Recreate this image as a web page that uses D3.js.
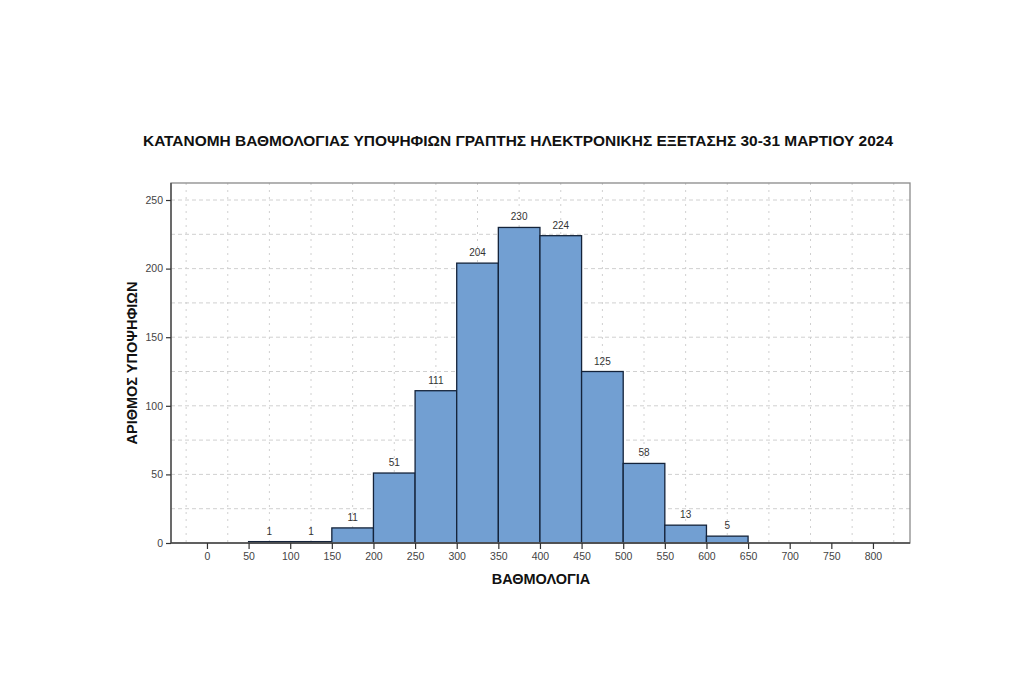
<!DOCTYPE html>
<html><head><meta charset="utf-8">
<script src="https://cdn.jsdelivr.net/npm/d3@7"></script>
<style>body{margin:0;background:#fff}svg{display:block}</style>
</head><body>
<script>
const binStarts = [50,100,150,200,250,300,350,400,450,500,550,600];
const binWidth = 50;
const counts = [1,1,11,51,111,204,230,224,125,58,13,5];
const xTicks = [0,50,100,150,200,250,300,350,400,450,500,550,600,650,700,750,800];
const yTicks = [0,50,100,150,200,250];
const xGrid = [-25,25,75,125,175,225,275,325,375,425,475,525,575,625,675,725,775,825];
const yGrid = [25,50,75,100,125,150,175,200,225,250];
const title = "ΚΑΤΑΝΟΜΗ ΒΑΘΜΟΛΟΓΙΑΣ ΥΠΟΨΗΦΙΩΝ ΓΡΑΠΤΗΣ ΗΛΕΚΤΡΟΝΙΚΗΣ ΕΞΕΤΑΣΗΣ 30-31 ΜΑΡΤΙΟΥ 2024";
const xLabel = "ΒΑΘΜΟΛΟΓΙΑ";
const yLabel = "ΑΡΙΘΜΟΣ ΥΠΟΨΗΦΙΩΝ";

const W=1024,H=683;
const L=171,R=910,T=183,B=543;
const svg=d3.select("body").append("svg").attr("width",W).attr("height",H);
const x=d3.scaleLinear().domain([-43.2,844.5]).range([L,R]);
const y=d3.scaleLinear().domain([0,262.4]).range([B,T]);
const font="'Liberation Sans', Arial, sans-serif";

// grid
svg.append("g").selectAll("line").data(yGrid).join("line")
  .attr("x1",L).attr("x2",R).attr("y1",d=>y(d)).attr("y2",d=>y(d))
  .attr("stroke","#d0d0d0").attr("stroke-width",1).attr("stroke-dasharray","4,3");
svg.append("g").selectAll("line").data(xGrid).join("line")
  .attr("y1",T).attr("y2",B).attr("x1",d=>x(d)).attr("x2",d=>x(d))
  .attr("stroke","#d0d0d0").attr("stroke-width",1).attr("stroke-dasharray","2,5");

// bars
const data=binStarts.map((s,i)=>({s,c:counts[i]}));
svg.append("g").selectAll("rect").data(data).join("rect")
  .attr("x",d=>x(d.s)).attr("width",d=>x(d.s+binWidth)-x(d.s))
  .attr("y",d=>y(d.c)).attr("height",d=>y(0)-y(d.c))
  .attr("fill","#729fd2").attr("stroke","#14233a").attr("stroke-width",1.3);

svg.append("g").selectAll("text").data(data).join("text")
  .attr("x",d=>x(d.s+binWidth/2)).attr("y",d=>y(d.c)-7)
  .attr("text-anchor","middle").attr("font-family",font).attr("font-size",10)
  .attr("fill","#333").text(d=>d.c);

// frame
svg.append("rect").attr("x",L).attr("y",T).attr("width",R-L).attr("height",B-T)
  .attr("fill","none").attr("stroke","#8a8a8a").attr("stroke-width",1.3);
svg.append("line").attr("x1",L).attr("x2",L).attr("y1",T).attr("y2",B).attr("stroke","#444").attr("stroke-width",1.3);
svg.append("line").attr("x1",L).attr("x2",R).attr("y1",B).attr("y2",B).attr("stroke","#444").attr("stroke-width",1.3);

// axes
const xa=svg.append("g").attr("transform",`translate(0,${B})`)
  .call(d3.axisBottom(x).tickValues(xTicks).tickSize(6).tickPadding(4).tickFormat(d3.format("d")));
xa.select(".domain").remove();
xa.selectAll("line").attr("stroke","#333").attr("stroke-width",1.2);
xa.selectAll("text").attr("font-family",font).attr("font-size",10.5).attr("fill","#444");

const ya=svg.append("g").attr("transform",`translate(${L},0)`)
  .call(d3.axisLeft(y).tickValues(yTicks).tickSize(5).tickPadding(3).tickFormat(d3.format("d")));
ya.select(".domain").remove();
ya.selectAll("line").attr("stroke","#333").attr("stroke-width",1.2);
ya.selectAll("text").attr("font-family",font).attr("font-size",10.5).attr("fill","#444");

// labels
svg.append("text").attr("x",518).attr("y",146).attr("text-anchor","middle")
  .attr("font-family",font).attr("font-size",15).attr("font-weight","bold").attr("fill","#111")
  .attr("textLength",750).attr("lengthAdjust","spacingAndGlyphs").text(title);
svg.append("text").attr("x",541).attr("y",584).attr("text-anchor","middle")
  .attr("font-family",font).attr("font-size",14.5).attr("font-weight","bold").attr("fill","#111").text(xLabel);
svg.append("text").attr("transform",`translate(137,363) rotate(-90)`).attr("text-anchor","middle")
  .attr("font-family",font).attr("font-size",14.5).attr("font-weight","bold").attr("fill","#111").text(yLabel);
</script>
</body></html>
